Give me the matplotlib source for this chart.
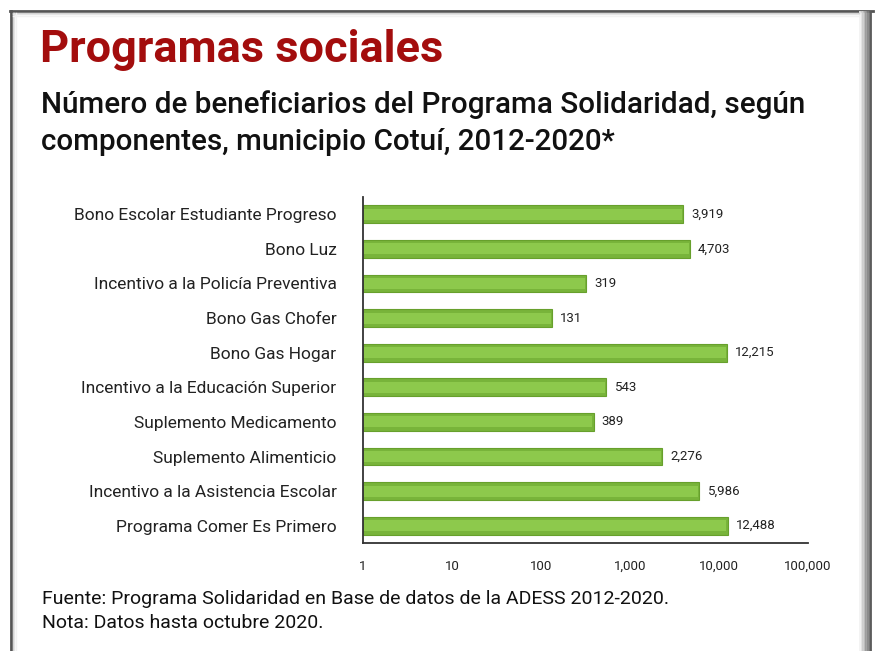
import matplotlib
matplotlib.use("Agg")
import matplotlib.pyplot as plt
from matplotlib.lines import Line2D
import numpy as np

plt.rcParams['font.family'] = ['Roboto', 'DejaVu Sans']

componentes = ["Bono Escolar Estudiante Progreso", "Bono Luz",
               "Incentivo a la Policía Preventiva", "Bono Gas Chofer",
               "Bono Gas Hogar", "Incentivo a la Educación Superior",
               "Suplemento Medicamento", "Suplemento Alimenticio",
               "Incentivo a la Asistencia Escolar", "Programa Comer Es Primero"]
beneficiarios = [3919, 4703, 319, 131, 12215, 543, 389, 2276, 5986, 12488]
xticks = [1, 10, 100, 1000, 10000, 100000]
xticklabels = ["1", "10", "100", "1,000", "10,000", "100,000"]

W, H = 878, 651
fig = plt.figure(figsize=(W / 100, H / 100), dpi=100)
ax = fig.add_axes([363 / W, 1 - 543 / H, 445 / W, 346 / H])

ys = np.arange(len(componentes))
# bar body + lighter centre band for the glossy look
ax.barh(ys, beneficiarios, height=0.52, left=1, color="#78b43a",
        edgecolor="#67a02c", lw=0.8, zorder=2)
ax.barh(ys, [v * 0.97 for v in beneficiarios], height=0.32, left=1.02,
        color="#8dc94c", lw=0, zorder=3)

for y, v in zip(ys, beneficiarios):
    ax.annotate(f"{v:,}", xy=(v, y), xytext=(6, 0), textcoords="offset points",
                va="center", ha="left", fontsize=9.5, color="#222222")

ax.set_xscale("log")
ax.set_xlim(1, 100000)
ax.set_ylim(len(componentes) - 0.5, -0.5)
ax.set_xticks(xticks)
ax.set_xticklabels(xticklabels, fontsize=9.5, color="#222222")
ax.minorticks_off()
ax.set_yticks(ys)
ax.set_yticklabels(componentes, fontsize=12.5, color="#222222")
ax.tick_params(axis="both", length=0)
ax.tick_params(axis="x", pad=12)
ax.tick_params(axis="y", pad=19)
for s in ["top", "right"]:
    ax.spines[s].set_visible(False)
for s in ["left", "bottom"]:
    ax.spines[s].set_color("#333333")
    ax.spines[s].set_linewidth(1.3)

# titles and notes
fig.text(40 / W, 1 - 62 / H, "Programas sociales", fontsize=32.5, fontweight="bold",
         color="#a30d0d", ha="left", va="baseline")
fig.text(41 / W, 1 - 113 / H, "Número de beneficiarios del Programa Solidaridad, según",
         fontsize=21.3, fontweight="medium", color="#111111", ha="left", va="baseline")
fig.text(41 / W, 1 - 150 / H, "componentes, municipio Cotuí, 2012-2020*",
         fontsize=21.3, fontweight="medium", color="#111111", ha="left", va="baseline")
fig.text(42 / W, 1 - 604 / H,
         "Fuente: Programa Solidaridad en Base de datos de la ADESS 2012-2020.",
         fontsize=14, color="#111111", ha="left", va="baseline")
fig.text(42 / W, 1 - 628 / H, "Nota: Datos hasta octubre 2020.",
         fontsize=14, color="#111111", ha="left", va="baseline")

# frame with shadow
def fl(x0, y0, x1, y1, c, lw):
    fig.add_artist(Line2D([x0 / W, x1 / W], [1 - y0 / H, 1 - y1 / H],
                          color=c, lw=lw, transform=fig.transFigure))

fl(10, 11, 873, 11, "#555555", 2)
fl(11, 11, 11, 651, "#555555", 2)
for i, c in enumerate(["#f2f2f2", "#e0e0e0", "#cccccc", "#b5b5b5", "#9a9a9a",
                       "#808080", "#6a6a6a", "#5a5a5a"]):
    fl(860 + i * 1.6, 12, 860 + i * 1.6, 651, c, 1.3)
for i, c in enumerate(["#cfcfcf", "#e4e4e4", "#f2f2f2"]):
    fl(13 + i * 1.3, 13, 13 + i * 1.3, 651, c, 1)
    fl(13, 13 + i * 1.3, 859, 13 + i * 1.3, c, 1)

fig.savefig("out.png", dpi=100)
